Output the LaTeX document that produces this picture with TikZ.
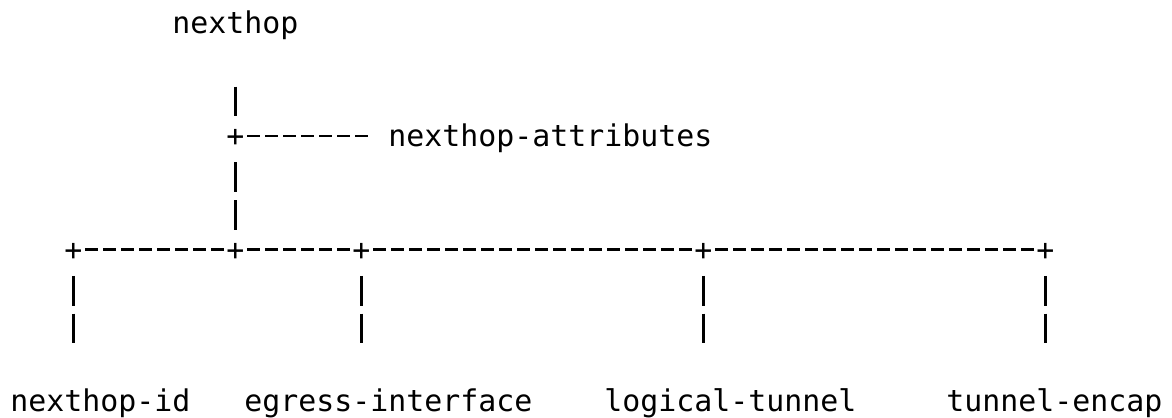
\documentclass[tikz,border=0pt]{standalone}
\usepackage{fontspec}
\newfontfamily\asciifont{DejaVu Sans Mono}
\tikzset{
  lbl/.style={anchor=base west, inner sep=0pt, text height=14.42pt, text depth=3.52pt,
    font=\asciifont\fontsize{14.95pt}{18pt}\selectfont},
  junc/.style={lbl},
  vbar/.style={line width=1.25pt, dash pattern=on 14.88pt off 4.04pt, dash phase=14.88pt},
  hline/.style={line width=1.25pt, dash pattern=on 6.65pt off 2.35pt, dash phase=7.825pt}
}
\begin{document}
\begin{tikzpicture}[x=9pt,y=-18.92pt]
			\useasboundingbox (-0.5556,-0.88) rectangle (64.556,10.166);
			% root and its attributes
			\node[lbl] (hop) at (9,0) {nexthop};
			\node[junc] (jtop) at (12,3) {+};
			\node[lbl] (attr) at (21,3) {nexthop-attributes};
			% branch line
			\node[junc] (jid) at (3,6) {+};
			\node[junc] (jmid) at (12,6) {+};
			\node[junc] (jegr) at (19,6) {+};
			\node[junc] (jlog) at (38,6) {+};
			\node[junc] (jenc) at (57,6) {+};
			% leaves
			\node[lbl] (nhid) at (0,10) {nexthop-id};
			\node[lbl] (egr) at (13,10) {egress-interface};
			\node[lbl] (log) at (33,10) {logical-tunnel};
			\node[lbl] (enc) at (52,10) {tunnel-encap};
			\draw[vbar, shorten <=18.92pt] (jtop.north |- hop.south) -- (jtop.north);
			\draw[hline, shorten >=9pt] (jtop.east) -- (attr.west);
			\draw[vbar] (jtop.south) -- (jmid.north);
			\draw[hline] (jid.east) -- (jmid.west);
			\draw[hline] (jmid.east) -- (jegr.west);
			\draw[hline] (jegr.east) -- (jlog.west);
			\draw[hline] (jlog.east) -- (jenc.west);
			\draw[vbar, shorten >=18.92pt] (jid.south) -- (jid.south |- nhid.north);
			\draw[vbar, shorten >=18.92pt] (jegr.south) -- (jegr.south |- egr.north);
			\draw[vbar, shorten >=18.92pt] (jlog.south) -- (jlog.south |- log.north);
			\draw[vbar, shorten >=18.92pt] (jenc.south) -- (jenc.south |- enc.north);
\end{tikzpicture}
\end{document}
